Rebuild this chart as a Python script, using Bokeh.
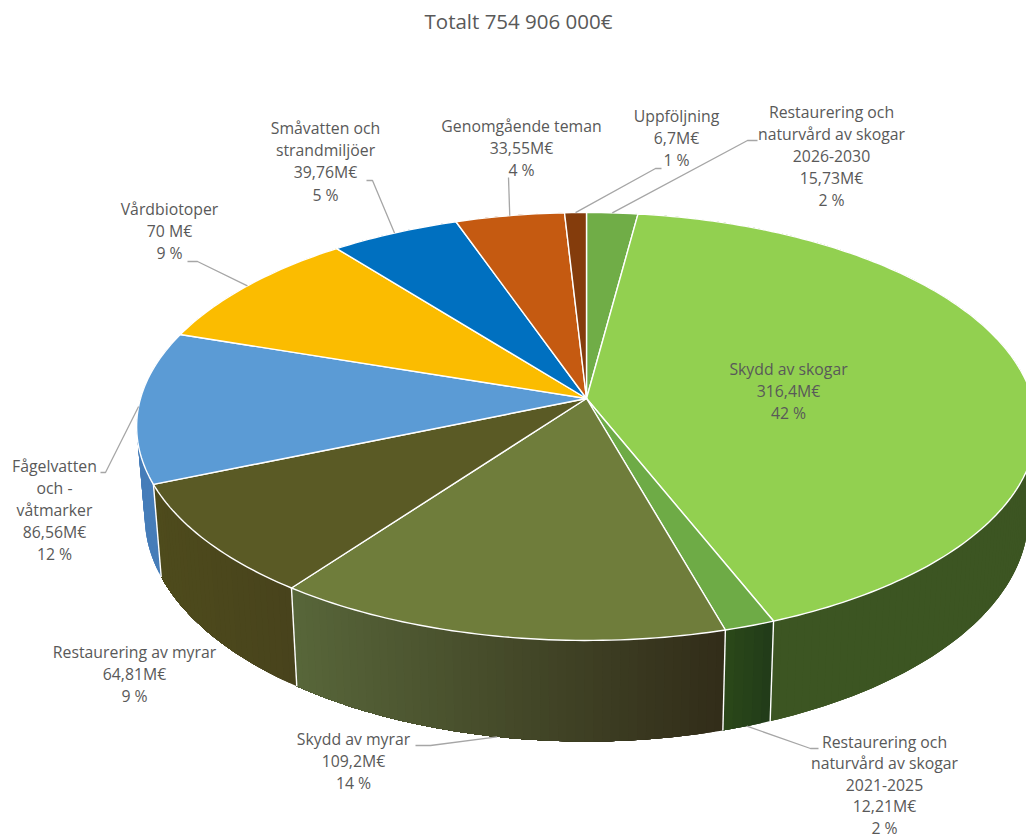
import math
from bokeh.plotting import figure
from bokeh.models import Range1d
from bokeh.core.properties import value
from bokeh.embed import file_html
from bokeh.resources import INLINE

title = "Totalt 754 906 000€"
names = [
    ["Restaurering och", "naturvård av skogar", "2026-2030"],
    ["Skydd av skogar"],
    ["Restaurering och", "naturvård av skogar", "2021-2025"],
    ["Skydd av myrar"],
    ["Restaurering av myrar"],
    ["Fågelvatten", "och -", "våtmarker"],
    ["Vårdbiotoper"],
    ["Småvatten och", "strandmiljöer"],
    ["Genomgående teman"],
    ["Uppföljning"],
]
values = [15.73, 316.4, 12.21, 109.2, 64.81, 86.56, 70.0, 39.76, 33.55, 6.7]
value_labels = ["15,73M€", "316,4M€", "12,21M€", "109,2M€", "64,81M€", "86,56M€", "70 M€", "39,76M€", "33,55M€", "6,7M€"]
pct_labels = ["2 %", "42 %", "2 %", "14 %", "9 %", "12 %", "9 %", "5 %", "4 %", "1 %"]
top_colors = ["#70AD47", "#92D050", "#6EAB46", "#6F7D3B", "#5A5A25", "#5B9BD5", "#FBBC00", "#0070C0", "#C55A11", "#843C0C"]
side_left = ["#4A7030", "#3C5522", "#2C4A19", "#58673A", "#4E4B1C", "#467DB9", "#A67C00", "#004A80", "#823C0B", "#572808"]
side_right = ["#4A7030", "#3C5522", "#223C19", "#322D19", "#48431C", "#467DB9", "#A67C00", "#004A80", "#823C0B", "#572808"]

# label layout: centre x, first line y, line step
label_pos = [(831, 111), (788, 368.5), (884, 741), (353, 738.5), (134, 651), (54, 465), (169, 208.5), (325, 127.5), (521, 125.5), (676, 115.5)]
line_steps = [22.2, 22.2, 21.5, 22.2, 22.2, 22.2, 22.2, 22.2, 22.2, 22.2]
# leader elbows (None = no leader); use_bottom = anchored on lower rim
leader_elbows = [
    [(747, 140), (757, 140)], None, [(810, 748), (818, 748)], [(430, 745), (415, 745)],
    None, [(105, 472), (100, 472)], [(197, 261), (187, 261)], [(372, 180), (366, 180)],
    [(508, 177)], [(655, 168), (661, 168)],
]
use_bottom = [False, False, True, True, False, False, False, False, False, False]

CX, CY, A, B, K = 586.0, 398.0, 446.0, 210.3, 0.1308
TX, TY, CY2 = 0.982, 1.054, 486.0


def top_pt(theta):
    u, v = math.sin(theta), math.cos(theta)
    w = 1 + K * v
    return CX + A * u / w, CY - B * v / w


def bot_pt(theta):
    x, y = top_pt(theta)
    return CX + TX * (x - CX), CY2 + TY * (y - CY)


def mix(c1, c2, t):
    a = [int(c1[i:i + 2], 16) for i in (1, 3, 5)]
    b = [int(c2[i:i + 2], 16) for i in (1, 3, 5)]
    return "#%02x%02x%02x" % tuple(round(p + (q - p) * t) for p, q in zip(a, b))


total = sum(values)
edges = [0.0]
for val in values:
    edges.append(edges[-1] + val / total * 2 * math.pi)

p = figure(width=1026, height=838, output_backend="svg", toolbar_location=None,
           x_range=Range1d(0, 1026), y_range=Range1d(838, 0), min_border=0)
p.axis.visible = False
p.grid.visible = False
p.outline_line_color = None
p.background_fill_color = "white"
p.border_fill_color = "white"

# outer walls: overlapping bands, each painted over the one before, so no seams show.
# Plain slices use short bands (they may turn round the silhouette);
# shaded slices run on to the slice's end.
wx, wy, wc = [], [], []
for i in range(len(values)):
    a0, a1 = edges[i], edges[i + 1]
    n = max(2, int((a1 - a0) / math.radians(1.0)))
    arc = [a0 + (a1 - a0) * j / n for j in range(n + 1)]
    plain = side_left[i] == side_right[i]
    xa, xb = top_pt(a0)[0], top_pt(a1)[0]
    lo, hi = min(xa, xb), max(xa, xb)
    for j in range(n):
        tail = arc[j:j + 4] if plain else arc[j:]
        f = (top_pt(arc[j])[0] - lo) / max(hi - lo, 1)
        up = [top_pt(t) for t in tail]
        dn = [bot_pt(t) for t in reversed(tail)]
        wx.append([q[0] for q in up + dn])
        wy.append([q[1] for q in up + dn])
        wc.append(mix(side_left[i], side_right[i], f))
p.patches(wx, wy, fill_color=wc, line_color=None)

# white seams between the walls on the front half
for e in edges:
    if math.cos(e) < 0:
        c, d = top_pt(e), bot_pt(e)
        p.line([c[0], d[0]], [c[1], d[1]], line_color="white", line_width=1.4)

# top face
sx, sy = [], []
for i in range(len(values)):
    a0, a1 = edges[i], edges[i + 1]
    n = max(3, int((a1 - a0) / math.radians(1.0)))
    pts = [top_pt(a0 + (a1 - a0) * j / n) for j in range(n + 1)]
    sx.append([CX] + [q[0] for q in pts])
    sy.append([CY] + [q[1] for q in pts])
p.patches(sx, sy, fill_color=top_colors, line_color="white", line_width=1.4, line_join="round")

# leaders
for i, elbow in enumerate(leader_elbows):
    if elbow is None:
        continue
    mid = (edges[i] + edges[i + 1]) / 2
    start = bot_pt(mid) if use_bottom[i] else top_pt(mid)
    p.line([start[0]] + [q[0] for q in elbow], [start[1]] + [q[1] for q in elbow],
           line_color="#A6A6A6", line_width=1.3)

# labels
tx, ty, tt = [], [], []
for i, (lx, ly) in enumerate(label_pos):
    lines = names[i] + [value_labels[i], pct_labels[i]]
    for j, s in enumerate(lines):
        tx.append(lx)
        ty.append(ly + j * line_steps[i])
        tt.append(s)
p.text(tx, ty, text=tt, text_font=value("Open Sans"), text_font_size="15.8px",
       text_color="#595959", text_align="center", text_baseline="middle")
p.text([518], [20.5], text=[title], text_font=value("Open Sans"), text_font_size="20.5px",
       text_color="#595959", text_align="center", text_baseline="middle")

open("out.html", "w").write(file_html(p, INLINE))
